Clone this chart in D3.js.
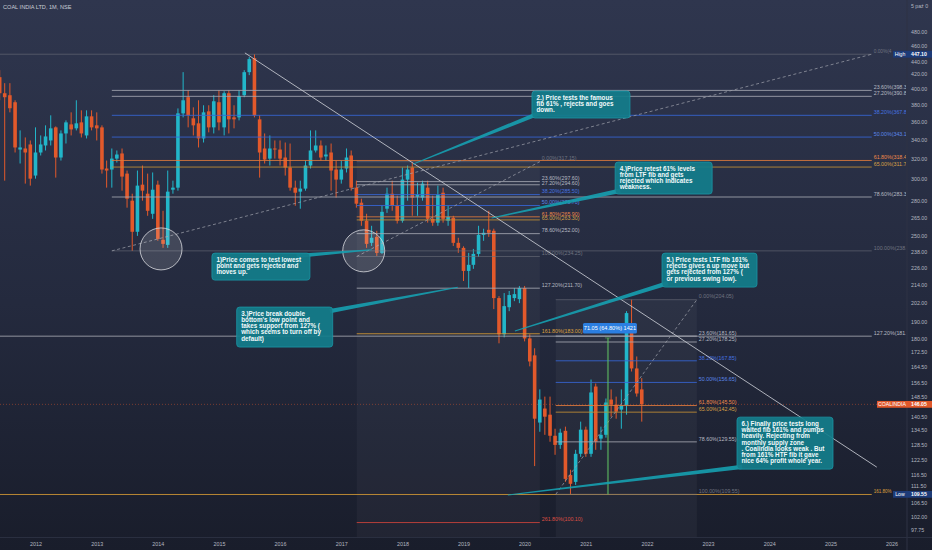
<!DOCTYPE html>
<html><head><meta charset="utf-8">
<script src="https://cdn.jsdelivr.net/npm/d3@7"></script>
<style>html,body{margin:0;padding:0;background:#1f2437;overflow:hidden}svg{display:block}</style>
</head><body>
<svg id="chart" width="932" height="550"></svg>
<script>
// ---------- DATA ----------
const firstMonth = "2011-06-01";
const opens  = [415.5,394.7,392.2,383.5,329.7,330.8,335.1,303.4,326.6,334.0,339.4,353.9,321.4,347.1,357.3,352.8,359.6,344.9,366.6,356.2,353.9,310.3,309.3,320.3,325.6,305.3,280.0,253.5,294.7,286.3,268.5,294.7,247.1,243.1,290.0,291.9,370.1,389.7,364.3,358.5,341.6,372.5,353.9,383.5,353.9,394.7,365.4,365.4,392.2,422.2,441.6,363.1,330.8,320.3,330.8,329.7,321.4,311.3,291.9,288.2,291.0,313.3,328.7,334.0,322.5,326.6,309.3,299.5,310.3,323.5,291.9,278.2,262.6,244.7,249.4,237.0,272.9,286.3,275.5,262.6,299.5,311.3,283.6,282.7,291.9,264.2,261.0,287.2,262.6,265.1,244.7,240.8,223.7,228.1,236.2,251.0,255.1,254.3,205.1,182.7,199.2,205.1,204.4,211.8,180.3,170.8,137.8,144.1,141.3,132.1,128.3,134.2,116.5,114.0,124.7,134.7,124.7,154.6,130.9,132.5,148.3,145.9,143.6,145.5,185.1,163.8,153.2];
const highs  = [424.9,407.6,407.6,385.9,350.5,342.7,339.4,353.9,344.9,356.2,367.8,355.0,350.5,361.9,371.3,385.9,373.7,373.7,373.7,371.3,356.2,318.3,330.8,328.7,330.8,308.3,286.3,308.3,313.3,305.3,306.4,298.5,271.1,308.3,298.5,376.0,422.2,398.5,377.3,385.9,379.8,379.8,392.2,398.5,397.2,398.5,379.8,398.5,424.9,443.1,447.1,367.8,347.1,344.9,339.4,339.4,337.2,336.1,298.5,298.5,318.3,350.5,350.5,339.4,334.0,336.1,318.3,318.3,330.8,328.7,298.5,281.8,268.5,258.4,254.3,275.5,291.9,298.5,284.5,311.3,313.3,316.3,296.6,298.5,298.5,284.5,293.8,291.9,275.5,266.8,248.7,242.0,237.0,240.0,258.4,256.0,271.1,256.0,206.4,208.4,209.8,211.8,213.2,213.2,182.7,174.7,153.2,149.7,149.7,135.1,135.1,136.0,118.5,126.3,138.2,136.0,158.1,156.1,136.0,148.8,153.2,149.7,153.2,196.7,204.05,170.2,158.8];
const lows   = [385.9,298.5,371.3,326.6,315.3,295.7,293.8,300.4,323.5,328.7,334.0,301.4,318.3,336.1,344.9,350.5,342.7,341.6,350.5,339.4,305.3,291.9,291.9,316.3,289.1,273.8,238.5,250.2,280.0,266.8,264.2,246.3,240.8,240.8,286.3,289.1,365.4,353.9,344.9,331.9,337.2,348.3,347.1,350.5,344.9,347.1,352.8,361.9,389.7,418.2,365.4,301.4,315.3,313.3,320.3,313.3,303.4,289.1,275.5,272.9,289.1,310.3,326.6,318.3,318.3,289.1,282.7,295.7,306.4,289.1,273.8,258.4,240.8,242.3,234.7,236.2,269.3,271.1,260.3,261.0,280.0,266.8,266.8,280.0,261.0,258.4,258.4,261.0,258.4,242.3,237.0,216.6,211.8,225.2,234.0,246.3,249.4,198.0,177.5,180.9,196.7,203.1,201.8,178.6,164.9,119.9,133.8,132.5,129.6,124.3,126.7,114.0,109.55,112.9,123.5,123.5,123.5,126.3,126.3,131.3,140.4,139.5,135.1,141.3,162.2,149.7,138.2];
const closes = [394.7,389.7,376.2,331.9,331.9,326.6,300.4,326.6,335.1,343.8,352.8,321.4,347.1,359.6,351.6,358.5,347.1,366.6,353.9,352.8,309.3,308.3,320.3,324.5,302.4,281.8,253.5,293.8,289.1,271.1,290.0,247.8,243.9,288.2,291.9,370.1,385.9,367.8,356.2,341.6,371.3,353.9,384.7,359.6,394.7,363.1,363.1,391.0,422.2,440.2,367.8,326.6,319.3,330.8,329.7,320.3,311.3,291.9,287.2,291.0,313.3,328.7,334.0,321.4,324.5,308.3,299.5,309.3,321.4,291.9,277.3,262.6,243.9,248.7,237.0,270.2,286.3,275.5,262.6,299.5,309.3,282.7,285.4,295.7,264.2,261.0,285.4,264.2,266.0,244.7,240.8,223.7,228.1,236.2,251.0,252.7,252.7,205.1,182.7,199.9,207.1,207.7,211.8,180.3,167.5,139.5,148.3,140.4,132.1,128.3,133.4,115.1,113.3,124.7,134.7,124.7,151.7,129.6,132.5,146.9,145.9,142.7,145.5,195.5,163.8,151.2,146.05];

const priceTicks = [480,460,440,420,400,380,360,340,320,300,280,265,250,238,226,214,202,190,180,172.5,164.5,156.5,148.5,140.5,134.5,128.5,122.5,116.5,111.5,106.5,102,97.75];
const yearTicks = [2012,2013,2014,2015,2016,2017,2018,2019,2020,2021,2022,2023,2024,2025,2026];

// HTF fib (2014 low -> 2015 high)
const htfPct = [0,0.236,0.272,0.382,0.5,0.618,0.65,0.786,1,1.272,1.618];
const htfVal = [447.10,398.30,390.80,367.80,343.10,318.40,311.75,283.30,238.50,181.60,109.50];
const htfSpan = ["2013-04-01","2025-09-05"];
// LTF fib
const ltfPct = [0,0.236,0.272,0.382,0.5,0.618,0.65,0.786,1,1.272,1.618,2.618];
const ltfVal = [317.15,297.60,294.60,285.50,275.70,265.90,263.30,252.00,234.25,211.70,183.00,100.10];
const ltfSpan = ["2017-04-03","2020-04-01"];
// 2020-2021 fib
const smPct = [0,0.236,0.272,0.382,0.5,0.618,0.65,0.786,1];
const smVal = [204.05,181.65,178.25,167.85,156.65,145.50,142.45,129.55,109.55];
const smSpan = ["2020-07-05","2022-10-26"];

const lastPrice = 146.05, highPrice = 447.10, lowPrice = 109.55;
const trendLine = [["2015-06-05",449],["2025-10-05",119.5]];
const circles = [["2014-01-20",240],["2017-05-15",238.5]];
const measure = {date:"2021-05-13", from:109.55, to:180.60, label:"71.05 (64.80%) 1421"};

const notes = [
 {at:["2014-11-20",236.8], w:98, h:27, base:["2016-04-10",234.7], tip:["2017-07-02",239.4],
  lines:["1)Price comes to test lowest","point and gets rejected and","moves up."]},
 {at:["2020-02-14",397.5], w:98, h:27, base:["2020-04-01",370.5], tip:["2018-03-05",314.7],
  lines:["2.) Price tests the famous","fib 61% , rejects and goes","down."]},
 {at:["2015-04-17",199.3], w:96, h:40, base:["2016-10-25",196.7], tip:["2018-11-28",212.4],
  lines:["3.)Price break double","bottom's low point and","takes support from 127% (","which seems to turn off by","default)"]},
 {at:["2021-06-25",316.8], w:97, h:32, base:["2021-07-25",289.0], tip:["2019-06-18",264.9],
  lines:["4.)Price retest 61% levels","from LTF fib and gets","rejected which indicates","weakness."]},
 {at:["2022-04-01",236.8], w:95, h:34, base:["2022-05-06",215.2], tip:["2019-11-04",184.6],
  lines:["5.) Price tests LTF fib 161%","rejects gives a up move but","gets rejected from 127% (","or previous swing low)."]},
 {at:["2023-06-23",140.2], w:96, h:52, base:["2023-07-23",119.6], tip:["2019-09-23",109.3],
  lines:["6.) Finally price tests long","waited fib 161% and pumps","heavily. Rejecting from","monthly supply zone",". Coalindia looks weak . But","from 161% HTF fib it gave","nice 64% profit whole year."]}
];

// ---------- SETUP ----------
const W = 932, H = 550, plotR = 906, plotB = 537, tagLeft = 893;
const FONT = "'Liberation Sans', Arial, sans-serif";
const parse = d3.timeParse("%Y-%m-%d");
const svg = d3.select("#chart");
const x = d3.scaleTime().domain([new Date(2012,0,1), new Date(2026,0,1)]).range([35.5, 891.5]);
const y = d3.scaleLog().domain([480, 97.75]).range([32, 530]);
const px = s => x(parse(s));

const defs = svg.append("defs");
const grad = defs.append("linearGradient").attr("id","bg").attr("x1",0).attr("y1",0).attr("x2",0).attr("y2",1);
grad.append("stop").attr("offset","0%").attr("stop-color","#2f364e");
grad.append("stop").attr("offset","55%").attr("stop-color","#242a3e");
grad.append("stop").attr("offset","100%").attr("stop-color","#191d2b");
defs.append("clipPath").attr("id","plot").append("rect").attr("x",0).attr("y",0).attr("width",plotR).attr("height",plotB);

svg.append("rect").attr("width",W).attr("height",H).attr("fill","url(#bg)");

const g = svg.append("g").attr("clip-path","url(#plot)");

// fib background fills
g.append("rect").attr("x",px(ltfSpan[0])).attr("width",px(ltfSpan[1])-px(ltfSpan[0]))
  .attr("y",y(ltfVal[0])).attr("height",plotB-y(ltfVal[0])).attr("fill","#ffffff").attr("opacity",0.035);
g.append("rect").attr("x",px(smSpan[0])).attr("width",px(smSpan[1])-px(smSpan[0]))
  .attr("y",y(smVal[0])).attr("height",plotB-y(smVal[0])).attr("fill","#ffffff").attr("opacity",0.04);

// ---------- CANDLES ----------
const candles = opens.map((o,i)=>({date:d3.timeMonth.offset(parse(firstMonth),i), o, h:highs[i], l:lows[i], c:closes[i]}));
const up = "#22b6c9", down = "#e2592b";
const cg = g.append("g");
cg.selectAll("line").data(candles).join("line")
  .attr("x1",d=>x(d.date)).attr("x2",d=>x(d.date))
  .attr("y1",d=>y(d.h)).attr("y2",d=>y(d.l))
  .attr("stroke",d=>d.c>=d.o?up:down).attr("stroke-width",1);
cg.selectAll("rect").data(candles).join("rect")
  .attr("x",d=>x(d.date)-1.8).attr("width",3.6)
  .attr("y",d=>y(Math.max(d.o,d.c)))
  .attr("height",d=>Math.max(1,Math.abs(y(d.o)-y(d.c))))
  .attr("fill",d=>d.c>=d.o?up:down);

// ---------- FIBS ----------
function fibLine(p){
  if(p===0||p===1) return "#6b6e79";
  if(p===0.382||p===0.5) return "#3766d6";
  if(p===0.618) return "#e07b3c";
  if(p===0.65) return "#c39035";
  if(p===1.618) return "#d49a35";
  if(p===2.618) return "#d2453b";
  return "#a4a7b1";
}
function fibLabel(p){
  if(p===0||p===1) return "#6f7380";
  if(p===0.382) return "#4673e0";
  if(p===0.5) return "#5b87ea";
  if(p===0.618) return "#ef8a4a";
  if(p===0.65) return "#d9a045";
  if(p===1.618) return "#dea13c";
  if(p===2.618) return "#de4f44";
  return "#b6b9c2";
}
function drawFib(pcts, vals, span, extendLeft, cut){
  const x0 = px(span[0]), x1 = px(span[1]);
  const fg = g.append("g");
  let prevLabelY = -100;
  pcts.forEach((p,i)=>{
    const yy = y(vals[i]);
    fg.append("line").attr("x1",extendLeft.includes(p)?0:x0).attr("x2",x1)
      .attr("y1",yy).attr("y2",yy).attr("stroke",fibLine(p)).attr("stroke-width",1)
      .attr("opacity",(p===0||p===1)?0.6:0.85);
    let ly = yy - 1.2;
    if(ly - prevLabelY < 4.6) ly = prevLabelY + 4.6;
    prevLabelY = ly;
    let label = (p*100).toFixed(2)+"%("+vals[i].toFixed(2)+")";
    const t = fg.append("text").attr("x",x1+2).attr("y",ly)
      .attr("font-family",FONT).attr("font-size",5.3).attr("fill",fibLabel(p));
    // labels that run under the axis High/Low tags stop where the tag begins
    if(cut[p]){
      t.text(label.slice(0, cut[p])).attr("textLength", tagLeft - 1.5 - (x1+2)).attr("lengthAdjust","spacingAndGlyphs");
    } else t.text(label);
  });
  fg.append("line").attr("x1",x0).attr("y1",y(vals[pcts.indexOf(1)]))
    .attr("x2",x1).attr("y2",y(vals[0]))
    .attr("stroke","#9a9da8").attr("stroke-width",1).attr("stroke-dasharray","3,2.5").attr("opacity",0.75);
}
drawFib(htfPct, htfVal, htfSpan, [0,1.272,1.618], {0:7, 1.618:7});
drawFib(ltfPct, ltfVal, ltfSpan, [], {});
drawFib(smPct, smVal, smSpan, [], {});

// price line
g.append("line").attr("x1",0).attr("x2",plotR).attr("y1",y(lastPrice)).attr("y2",y(lastPrice))
  .attr("stroke",down).attr("stroke-width",1).attr("stroke-dasharray","1,2").attr("opacity",0.45);

// trend line
g.append("line").attr("x1",px(trendLine[0][0])).attr("y1",y(trendLine[0][1]))
  .attr("x2",px(trendLine[1][0])).attr("y2",y(trendLine[1][1]))
  .attr("stroke","#c8cbd3").attr("stroke-width",1).attr("opacity",0.85);

// circles
g.selectAll("circle.mark").data(circles).join("circle")
  .attr("cx",d=>px(d[0])).attr("cy",d=>y(d[1])).attr("r",21)
  .attr("fill","#ffffff").attr("fill-opacity",0.13)
  .attr("stroke","#d9dbe0").attr("stroke-width",1).attr("stroke-opacity",0.8);

// measure
const mx = px(measure.date);
g.append("line").attr("x1",mx).attr("x2",mx).attr("y1",y(measure.to)).attr("y2",y(measure.from))
  .attr("stroke","#5fbf62").attr("stroke-width",2).attr("opacity",0.55);
g.append("line").attr("x1",mx-3).attr("x2",mx+3).attr("y1",y(measure.to)).attr("y2",y(measure.to))
  .attr("stroke","#5fbf62").attr("stroke-width",1).attr("opacity",0.55);
const mlY = y(measure.to) - 15;
g.append("rect").attr("x",mx-25).attr("y",mlY).attr("width",54).attr("height",10.5).attr("rx",1.5)
  .attr("fill","#2b7ee0");
g.append("text").attr("x",mx+2).attr("y",mlY+7.3).attr("text-anchor","middle")
  .attr("font-family",FONT).attr("font-size",5.6).attr("fill","#ffffff").text(measure.label);

// ---------- NOTES ----------
const teal = "#137d8b";
notes.forEach(n=>{
  const bx = px(n.at[0]), by = y(n.at[1]);
  const b = [px(n.base[0]), y(n.base[1])], t = [px(n.tip[0]), y(n.tip[1])];
  const dx = t[0]-b[0], dy = t[1]-b[1], len = Math.hypot(dx,dy);
  const nx = -dy/len, ny = dx/len, hw = 2.2, tw = 0.5;
  const poly = [[b[0]+nx*hw,b[1]+ny*hw],[t[0]+nx*tw,t[1]+ny*tw],[t[0]-nx*tw,t[1]-ny*tw],[b[0]-nx*hw,b[1]-ny*hw]];
  g.append("polygon").attr("points",poly.map(p=>p.join(",")).join(" ")).attr("fill","#16a0b0").attr("opacity",0.9);
  g.append("rect").attr("x",bx).attr("y",by).attr("width",n.w).attr("height",n.h).attr("rx",3)
    .attr("fill",teal).attr("fill-opacity",0.93).attr("stroke","#1a95a4").attr("stroke-width",0.8);
  const tx = g.append("text").attr("font-family",FONT).attr("font-size",6.3).attr("font-weight",600).attr("fill","#f2fafb");
  n.lines.forEach((l,i)=>{
    tx.append("tspan").attr("x",bx+4.5).attr("y",by+8.5+i*6.3).text(l);
  });
});

// ---------- AXES ----------
svg.append("line").attr("x1",plotR+1).attr("x2",plotR+1).attr("y1",0).attr("y2",H).attr("stroke","#2e3345").attr("stroke-width",1);
svg.append("line").attr("x1",0).attr("x2",W).attr("y1",plotB+0.5).attr("y2",plotB+0.5).attr("stroke","#2a2f40").attr("stroke-width",1);

const ya = svg.append("g").attr("transform",`translate(${plotR+3},0)`)
  .call(d3.axisRight(y).tickValues(priceTicks).tickFormat(d3.format(".2f")).tickSize(0).tickPadding(2));
ya.select(".domain").remove();
ya.selectAll("text").attr("font-family",FONT).attr("font-size",5.3).attr("fill","#b4b7c0");
ya.selectAll(".tick text").attr("dy",d=>{
  const near = [highPrice,lowPrice,lastPrice].map(v=>y(d)-y(v)).find(v=>Math.abs(v)<6.5);
  return near===undefined ? "0.32em" : (near<0 ? "-0.2em" : "0.8em");
});

const xa = svg.append("g").attr("transform",`translate(0,${plotB+2})`)
  .call(d3.axisBottom(x).tickValues(yearTicks.map(yr=>new Date(yr,0,1))).tickFormat(d3.timeFormat("%Y")).tickSize(0).tickPadding(3));
xa.select(".domain").remove();
xa.selectAll("text").attr("font-family",FONT).attr("font-size",5.4).attr("fill","#b4b7c0");

function axisTag(val, left, label, color, txt){
  const yy = y(val);
  if(label){
    svg.append("rect").attr("x",left).attr("y",yy-3.4).attr("width",plotR+1-left).attr("height",6.8).attr("fill",color);
    svg.append("text").attr("x",(left+plotR+1)/2).attr("y",yy+1.9).attr("text-anchor","middle")
      .attr("font-family",FONT).attr("font-size",5.2).attr("fill","#ffffff").text(label);
  }
  svg.append("rect").attr("x",plotR+1).attr("y",yy-3.4).attr("width",W-plotR-1).attr("height",6.8).attr("fill",color);
  svg.append("text").attr("x",plotR+5).attr("y",yy+1.9)
    .attr("font-family",FONT).attr("font-size",5.2).attr("font-weight",600).attr("fill","#ffffff").text(txt);
}
axisTag(highPrice, tagLeft, "High", "#1d3b78", highPrice.toFixed(2));
axisTag(lowPrice, tagLeft, "Low", "#1d3b78", lowPrice.toFixed(2));
axisTag(lastPrice, 877, "COALINDIA", "#e0572a", lastPrice.toFixed(2));

// titles
svg.append("text").attr("x",3).attr("y",9).attr("font-family",FONT).attr("font-size",5.6)
  .attr("fill","#c9ccd5").text("COAL INDIA LTD, 1M, NSE");
svg.append("text").attr("x",plotR+5).attr("y",8).attr("font-family",FONT).attr("font-size",5.2)
  .attr("fill","#b4b7c0").text("5 paź 0");
</script>
</body></html>
